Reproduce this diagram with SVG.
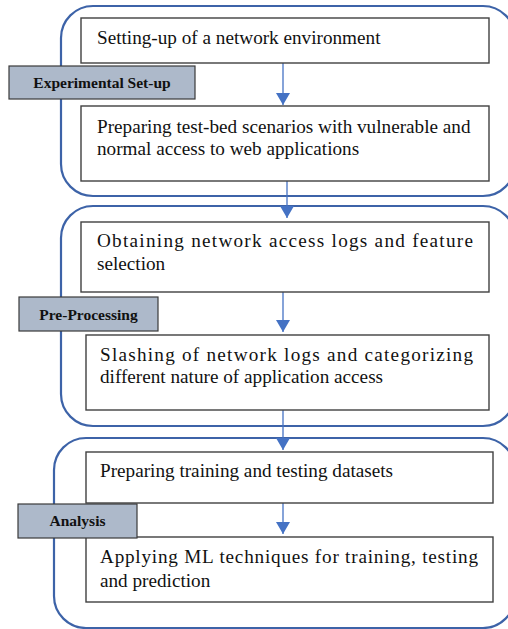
<svg xmlns="http://www.w3.org/2000/svg" width="508" height="629" viewBox="0 0 508 629">
<style>
.stage{fill:none;stroke:#3d63a8;stroke-width:2.2}
.box{fill:#fff;stroke:#404040;stroke-width:1.4}
.lab{fill:#adb9ca;stroke:#3a3a3a;stroke-width:1.2}
.t{font-family:"Liberation Serif","Times New Roman",serif;font-size:19.2px;fill:#111}
.lt{font-family:"Liberation Serif","Times New Roman",serif;font-size:15.5px;font-weight:bold;fill:#111;text-anchor:middle}
.con{stroke:#4472c4;stroke-width:1.3;fill:none}
</style>
<defs>
<marker id="ah" markerUnits="userSpaceOnUse" markerWidth="14" markerHeight="12" viewBox="0 0 14 12" refX="7" refY="12" orient="0">
<path d="M0,0 L14,0 L7,12 Z" fill="#4472c4"/>
</marker>
</defs>
<g id="stages">
<rect class="stage" x="61" y="6" width="454" height="190" rx="32"/>
<rect class="stage" x="61" y="206" width="454" height="220" rx="32"/>
<rect class="stage" x="54" y="438" width="461" height="190" rx="32"/>
</g>
<g id="connectors">
<line class="con" x1="283" y1="63" x2="283" y2="105" marker-end="url(#ah)"/>
<line class="con" x1="287" y1="181" x2="287" y2="218" marker-end="url(#ah)"/>
<line class="con" x1="283" y1="292" x2="283" y2="332" marker-end="url(#ah)"/>
<line class="con" x1="283" y1="410" x2="283" y2="450" marker-end="url(#ah)"/>
<line class="con" x1="283" y1="503" x2="283" y2="534" marker-end="url(#ah)"/>
</g>
<g id="n1">
<rect class="box" x="81" y="18" width="408" height="45"/>
<text class="t" x="97" y="44">Setting-up of a network environment</text>
</g>
<g id="n2">
<rect class="box" x="81" y="106" width="408" height="75"/>
<text class="t" x="97" y="133">Preparing test-bed scenarios with vulnerable and</text>
<text class="t" x="97" y="155">normal access to web applications</text>
</g>
<g id="n3">
<rect class="box" x="81" y="222" width="408" height="70"/>
<text class="t" x="97" y="247" textLength="376" lengthAdjust="spacing">Obtaining network access logs and feature</text>
<text class="t" x="97" y="270">selection</text>
</g>
<g id="n4">
<rect class="box" x="86" y="335" width="403" height="75"/>
<text class="t" x="100" y="361" textLength="373" lengthAdjust="spacing">Slashing of network logs and categorizing</text>
<text class="t" x="100" y="383">different nature of application access</text>
</g>
<g id="n5">
<rect class="box" x="86" y="452" width="407" height="51"/>
<text class="t" x="100" y="477">Preparing training and testing datasets</text>
</g>
<g id="n6">
<rect class="box" x="86" y="537" width="407" height="65"/>
<text class="t" x="100" y="563" textLength="378" lengthAdjust="spacing">Applying ML techniques for training, testing</text>
<text class="t" x="100" y="587">and prediction</text>
</g>
<g id="label1">
<rect class="lab" x="9" y="66" width="186" height="33"/>
<text class="lt" x="102" y="88">Experimental Set-up</text>
</g>
<g id="label2">
<rect class="lab" x="19" y="297" width="139" height="34"/>
<text class="lt" x="88.5" y="320">Pre-Processing</text>
</g>
<g id="label3">
<rect class="lab" x="18" y="504" width="119" height="34"/>
<text class="lt" x="77.5" y="526">Analysis</text>
</g>
</svg>
